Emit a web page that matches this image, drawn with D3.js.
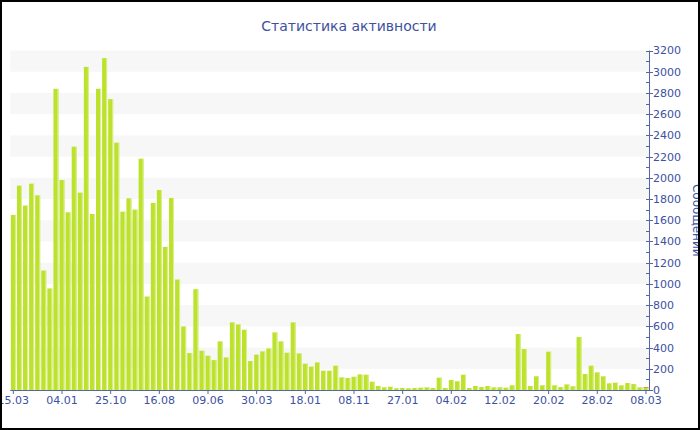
<!DOCTYPE html>
<html>
<head>
<meta charset="utf-8">
<script src="https://cdnjs.cloudflare.com/ajax/libs/d3/7.8.5/d3.min.js"></script>
<style>
  body { margin: 0; background: #fff; }
  text { font-family: "DejaVu Sans", Verdana, sans-serif; }
</style>
</head>
<body>
<div id="container"></div>
<script>
const title = "Статистика активности";
const yTitle = "Сообщений";

// messages per period, oldest first
const values = [1650,1926,1738,1945,1835,1126,957,2839,1979,1675,2293,1860,3046,1659,2839,3128,2742,2331,1681,1807,1700,2180,881,1763,1885,1349,1810,1041,599,348,950,370,323,282,458,
  307,637,618,568,273,333,364,392,543,458,351,637,345,248,220,260,182,182,229,119,113,125,147,144,78,38,25,31,16,19,16,19,22,25,19,
  116,19,94,82,144,19,38,28,38,25,25,22,44,527,386,38,129,44,361,44,28,53,35,499,151,229,166,129,63,69,44,66,56,25,22];
// small extra part stacked on top of the last bar
const extra = values.map((d, i) => i == values.length - 1 ? 6 : 0);
const tickLabels = ["15.03","04.01","25.10","16.08","09.06","30.03","18.01","08.11","27.01","04.02","12.02","20.02","28.02","08.03"];
const tickStep = 8;

const w = 700;
const h = 430;
const plotLeft = 10.3, plotRight = 649, plotTop = 50.5, plotBottom = 390;
const axisColor = "#5466a8";
const textColor = "#3d51a0";

const svg = d3.select("#container")
              .append("svg")
              .attr("width", w)
              .attr("height", h);

const xScale = d3.scaleBand()
                 .domain(d3.range(values.length))
                 .range([plotLeft, plotRight])
                 .paddingInner(0.18)
                 .paddingOuter(0.09);
const yScale = d3.scaleLinear()
                 .domain([0, 3200])
                 .range([plotBottom, plotTop]);

// stripes every other 200
const stripes = d3.range(200, 3200, 400);
svg.selectAll("rect.stripe")
   .data(stripes)
   .enter()
   .append("rect")
   .attr("class", "stripe")
   .attr("x", plotLeft)
   .attr("y", (d) => yScale(d + 200))
   .attr("width", plotRight - plotLeft)
   .attr("height", (d) => yScale(d) - yScale(d + 200))
   .attr("fill", "#f7f7f7");

const bars = svg.selectAll("g.bar")
                .data(values.map((v, i) => ({i: i, v: v, e: extra[i]})))
                .enter()
                .append("g")
                .attr("class", "bar");
bars.append("rect")
    .attr("x", (d) => xScale(d.i))
    .attr("y", (d) => yScale(d.v))
    .attr("width", xScale.bandwidth())
    .attr("height", (d) => plotBottom - yScale(d.v))
    .attr("fill", "#bde22e");
bars.append("rect")
    .attr("x", (d) => xScale(d.i) + xScale.bandwidth() - 1)
    .attr("y", (d) => yScale(d.v))
    .attr("width", 1)
    .attr("height", (d) => plotBottom - yScale(d.v))
    .attr("fill", "#dcf08e");
bars.filter((d) => d.e > 0)
    .append("rect")
    .attr("x", (d) => xScale(d.i))
    .attr("y", (d) => yScale(d.v + d.e))
    .attr("width", xScale.bandwidth())
    .attr("height", (d) => yScale(d.v) - yScale(d.v + d.e))
    .attr("fill", "#e4572e");

// x axis
const xTicks = tickLabels.map((t, k) => k * tickStep);
const xAxis = d3.axisBottom(xScale)
                .tickValues(xTicks)
                .tickFormat((d) => tickLabels[d / tickStep])
                .tickSize(4)
                .tickSizeOuter(0);
const gx = svg.append("g")
              .attr("transform", "translate(0," + plotBottom + ")")
              .call(xAxis);
gx.select(".domain").attr("stroke", axisColor).attr("d", "M" + plotLeft + ",0.5H" + plotRight);
gx.selectAll(".tick line").attr("stroke", axisColor);
gx.selectAll(".tick text").attr("fill", textColor).attr("font-size", 11).attr("y", 6)
  .attr("font-family", "DejaVu Sans");

// y axis on the right, minor ticks every 100
const gy = svg.append("g")
              .attr("transform", "translate(" + plotRight + ",0)");
gy.append("line")
  .attr("x1", 0.5).attr("x2", 0.5)
  .attr("y1", plotTop).attr("y2", plotBottom)
  .attr("stroke", axisColor);
gy.selectAll("line.minor")
  .data(d3.range(0, 3201, 100))
  .enter()
  .append("line")
  .attr("class", "minor")
  .attr("x1", -3)
  .attr("x2", (d) => d % 200 == 0 ? 4 : 0)
  .attr("y1", (d) => Math.round(yScale(d)) + 0.5)
  .attr("y2", (d) => Math.round(yScale(d)) + 0.5)
  .attr("stroke", axisColor);
gy.selectAll("text")
  .data(d3.range(0, 3201, 200))
  .enter()
  .append("text")
  .attr("x", 4)
  .attr("y", (d) => yScale(d))
  .attr("dy", "0.36em")
  .attr("font-size", 11)
  .attr("fill", textColor)
  .text((d) => d);

svg.append("text")
   .attr("transform", "translate(693," + (plotTop + plotBottom) / 2 + ") rotate(90)")
   .attr("text-anchor", "middle")
   .attr("font-size", 12)
   .attr("fill", textColor)
   .text(yTitle);

svg.append("text")
   .attr("x", 349)
   .attr("y", 31)
   .attr("text-anchor", "middle")
   .attr("font-size", 14)
   .attr("fill", textColor)
   .text(title);

svg.append("rect")
   .attr("x", 1).attr("y", 1)
   .attr("width", w - 2).attr("height", h - 2)
   .attr("fill", "none")
   .attr("stroke", "#000")
   .attr("stroke-width", 2);
</script>
</body>
</html>
